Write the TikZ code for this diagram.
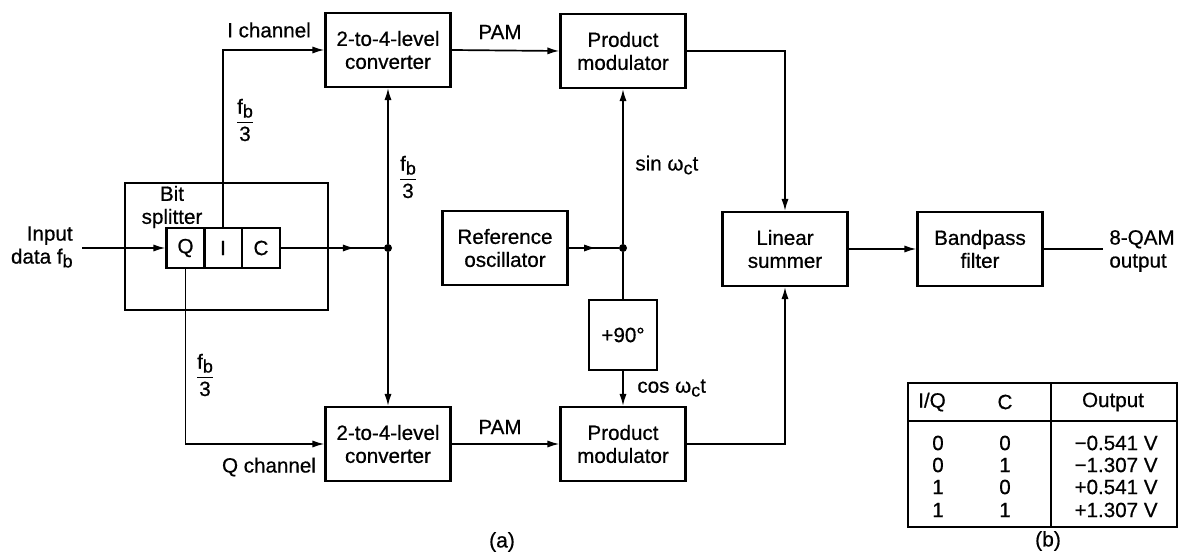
\documentclass[tikz,border=0pt]{standalone}
\usepackage{fontspec}
\setmainfont{Liberation Sans}[FakeBold=0.6,AutoFakeBold=0.6]
\usetikzlibrary{arrows.meta,decorations.markings}
\newcommand\fbthird{$\displaystyle\frac{\mbox{f\raisebox{-0.35ex}{\fontsize{9}{9}\selectfont b}}}{\mbox{3}}$}
\newcommand\wct{ω\raisebox{-0.35ex}{\fontsize{9}{9}\selectfont c}t}
\begin{document}
\begin{tikzpicture}[x=0.5pt,y=-0.5pt,
  font=\fontsize{10.3}{11.5}\selectfont\bfseries,
  box/.style={draw,line width=1.1pt,minimum width=62.5pt,minimum height=37pt,align=center,inner sep=1pt},
  cell/.style={draw,line width=1.1pt,minimum width=19pt,minimum height=20pt,inner sep=0pt},
  wire/.style={line width=0.85pt},
  tip/.style={-{Latex[length=6pt,width=3.6pt]}},
  arr/.style={wire,tip},
  midarr/.style={wire,postaction={decorate},decoration={markings,mark=at position #1 with {\arrow{Latex[length=6pt,width=3.6pt]}}}},
  dot/.style={circle,fill,inner sep=0pt,minimum size=4pt},
  lbl/.style={inner sep=0pt,align=center}
]
\useasboundingbox[fill=white] (0,0) rectangle (1183,556);

% bit splitter
\node[draw,line width=1.1pt,minimum width=101.5pt,minimum height=63.5pt,inner sep=0pt] (split) at (226.5,246.5) {};
\node[lbl] (splitlbl) at (172,207) {Bit\\splitter};
\node[cell] (Q) at (185.5,248) {Q};
\node[cell] (I) at (223,248) {I};
\node[cell] (C) at (261,248) {C};

% blocks
\node[box] (conv1) at (388,50) {2-to-4-level\\converter};
\node[box] (conv2) at (388,444) {2-to-4-level\\converter};
\node[box] (pm1) at (623,51) {Product\\modulator};
\node[box] (pm2) at (623,444) {Product\\modulator};
\node[box] (osc) at (505,248) {Reference\\oscillator};
\node[draw,line width=1.1pt,minimum width=34pt,minimum height=35pt,inner sep=0pt] (ph) at (623,335) {+90°};
\node[box] (sum) at (785,249) {Linear\\summer};
\node[box] (bpf) at (980,249) {Bandpass\\filter};

% junctions and free ends
\node[dot] (J1) at (388,248) {};
\node[dot] (J2) at (623,248) {};
\coordinate (in) at (82,248);
\coordinate (out) at (1103,249);

% labels
\node[lbl,align=right,anchor=east] (inlbl) at (73,247) {Input\\data f\raisebox{-0.35ex}{\fontsize{9}{9}\selectfont b}};
\node[lbl,align=left,anchor=west] (outlbl) at (1109,251) {8-QAM\\output};
\node[lbl] (ich) at (269,30) {I channel};
\node[lbl] (qch) at (269,467) {Q channel};
\node[lbl] (f1) at (245,120) {\fbthird};
\node[lbl] (f2) at (408,177) {\fbthird};
\node[lbl] (f3) at (205,375) {\fbthird};
\node[lbl] (pam1) at (500,32) {PAM};
\node[lbl] (pam2) at (500,427) {PAM};
\node[lbl,anchor=west] (sinl) at (635,165) {sin \wct};
\node[lbl,anchor=west] (cosl) at (637,388) {cos \wct};
\node[lbl,font=\fontsize{10.5}{11.5}\mdseries] (capa) at (502,542) {(a)};

% connectors
\draw[arr] (in) -- (Q.west);
\draw[midarr=0.72] (C.east) -- (J1);
\draw[arr] (I.north) |- (conv1.west);
\draw[arr] (Q.south) |- (conv2.west);
\draw[arr] (J1) -- (conv1.south);
\draw[arr] (J1) -- (conv2.north);
\draw[arr] (conv1.east) -- (pm1.west);
\draw[arr] (conv2.east) -- (pm2.west);
\draw[arr] (pm1.east) -| (sum.north);
\draw[arr] (pm2.east) -| (sum.south);
\draw[midarr=0.55] (osc.east) -- (J2);
\draw[arr] (J2) -- (pm1.south);
\draw[wire] (J2) -- (ph.north);
\draw[arr] (ph.south) -- (pm2.north);
\draw[arr] (sum.east) -- (bpf.west);
\draw[wire] (bpf.east) -- (out);

% truth table
\draw[line width=0.9pt] (908,383) rectangle (1177,527);
\draw[line width=0.9pt] (908,421) -- (1177,421);
\draw[line width=0.9pt] (1051,383) -- (1051,527);
\node[lbl] (hIQ) at (932,402) {I/Q};
\node[lbl] (hC) at (1005,402) {C};
\node[lbl] (hOut) at (1113,402) {Output};
\node[lbl] (r1a) at (938,443) {0};
\node[lbl] (r1b) at (1005,443) {0};
\node[lbl,anchor=east] (r1c) at (1158,443) {−0.541 V};
\node[lbl] (r2a) at (938,465) {0};
\node[lbl] (r2b) at (1005,465) {1};
\node[lbl,anchor=east] (r2c) at (1158,465) {−1.307 V};
\node[lbl] (r3a) at (938,487) {1};
\node[lbl] (r3b) at (1005,487) {0};
\node[lbl,anchor=east] (r3c) at (1158,487) {+0.541 V};
\node[lbl] (r4a) at (938,510) {1};
\node[lbl] (r4b) at (1005,510) {1};
\node[lbl,anchor=east] (r4c) at (1158,510) {+1.307 V};
\node[lbl,font=\fontsize{10.5}{11.5}\mdseries] (capb) at (1048,541) {(b)};
\end{tikzpicture}
\end{document}
